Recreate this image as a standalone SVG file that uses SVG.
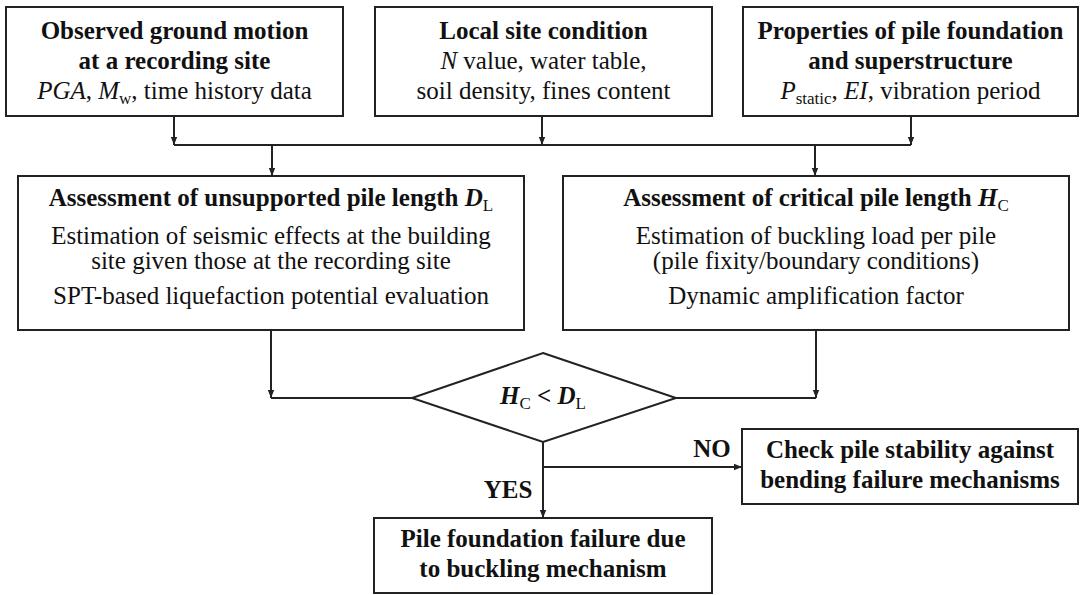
<svg xmlns="http://www.w3.org/2000/svg" width="1080" height="595" viewBox="0 0 1080 595">
<style>
.box{fill:#fff;stroke:#222;stroke-width:2}
.ln{fill:none;stroke:#222;stroke-width:2}
text{font-family:"Liberation Serif","Times New Roman",serif;font-size:25px;fill:#111;text-anchor:middle}
.b{font-weight:bold}
.i{font-style:italic}
.sub{font-size:17px;font-style:normal;font-weight:normal}
</style>
<defs>
<marker id="ah" viewBox="0 0 10 10" refX="10" refY="5" markerWidth="8" markerHeight="8" markerUnits="userSpaceOnUse" orient="auto">
<path d="M0,1 L10,5 L0,9 Z" fill="#222"/>
</marker>
</defs>
<rect width="1080" height="595" fill="#fff"/>

<g id="connectors">
<path class="ln" d="M174,116 V145" marker-end="url(#ah)"/>
<path class="ln" d="M542,116 V145" marker-end="url(#ah)"/>
<path class="ln" d="M911,116 V145" marker-end="url(#ah)"/>
<path class="ln" d="M174,145 H911"/>
<path class="ln" d="M272,145 V176" marker-end="url(#ah)"/>
<path class="ln" d="M815,145 V176" marker-end="url(#ah)"/>
<path class="ln" d="M271,330 V398" marker-end="url(#ah)"/>
<path class="ln" d="M271,398 H412"/>
<path class="ln" d="M816,330 V398" marker-end="url(#ah)"/>
<path class="ln" d="M676,398 H816"/>
<path class="ln" d="M543,442 V518" marker-end="url(#ah)"/>
<path class="ln" d="M543,467 H742" marker-end="url(#ah)"/>
<text class="b" x="712" y="457">NO</text>
<text class="b" x="508" y="498">YES</text>
</g>

<g id="observed">
<rect class="box" x="6" y="7" width="337" height="109"/>
<text class="b" x="174.5" y="39">Observed ground motion</text>
<text class="b" x="174.5" y="69">at a recording site</text>
<text x="174.5" y="99"><tspan class="i">PGA</tspan>, <tspan class="i">M</tspan><tspan class="sub" dy="5">w</tspan><tspan dy="-5">, time history data</tspan></text>
</g>

<g id="local">
<rect class="box" x="375" y="7" width="337" height="109"/>
<text class="b" x="543.5" y="39">Local site condition</text>
<text x="543.5" y="69"><tspan class="i">N</tspan> value, water table,</text>
<text x="543.5" y="99">soil density, fines content</text>
</g>

<g id="properties">
<rect class="box" x="743" y="7" width="335" height="109"/>
<text class="b" x="910.5" y="39">Properties of pile foundation</text>
<text class="b" x="910.5" y="69">and superstructure</text>
<text x="910.5" y="99"><tspan class="i">P</tspan><tspan class="sub" dy="5">static</tspan><tspan dy="-5">, </tspan><tspan class="i">EI</tspan>, vibration period</text>
</g>

<g id="unsupported">
<rect class="box" x="18" y="176" width="506" height="154"/>
<text class="b" x="271" y="206">Assessment of unsupported pile length <tspan class="i">D</tspan><tspan class="sub" dy="5">L</tspan></text>
<text x="271" y="244">Estimation of seismic effects at the building</text>
<text x="271" y="269">site given those at the recording site</text>
<text x="271" y="304">SPT-based liquefaction potential evaluation</text>
</g>

<g id="critical">
<rect class="box" x="563" y="176" width="506" height="154"/>
<text class="b" x="816" y="206">Assessment of critical pile length <tspan class="i">H</tspan><tspan class="sub" dy="5">C</tspan></text>
<text x="816" y="244">Estimation of buckling load per pile</text>
<text x="816" y="269">(pile fixity/boundary conditions)</text>
<text x="816" y="304">Dynamic amplification factor</text>
</g>

<g id="decision">
<polygon class="box" points="543,353 676,398 543,442 412,398"/>
<text class="b" x="543" y="404"><tspan class="i">H</tspan><tspan class="sub" dy="5">C</tspan><tspan dy="-5"> &lt; </tspan><tspan class="i">D</tspan><tspan class="sub" dy="5">L</tspan></text>
</g>

<g id="bending">
<rect class="box" x="742" y="429" width="336" height="75"/>
<text class="b" x="910" y="458">Check pile stability against</text>
<text class="b" x="910" y="488">bending failure mechanisms</text>
</g>

<g id="failure">
<rect class="box" x="374" y="518" width="338" height="75"/>
<text class="b" x="543" y="547">Pile foundation failure due</text>
<text class="b" x="543" y="577">to buckling mechanism</text>
</g>
</svg>
